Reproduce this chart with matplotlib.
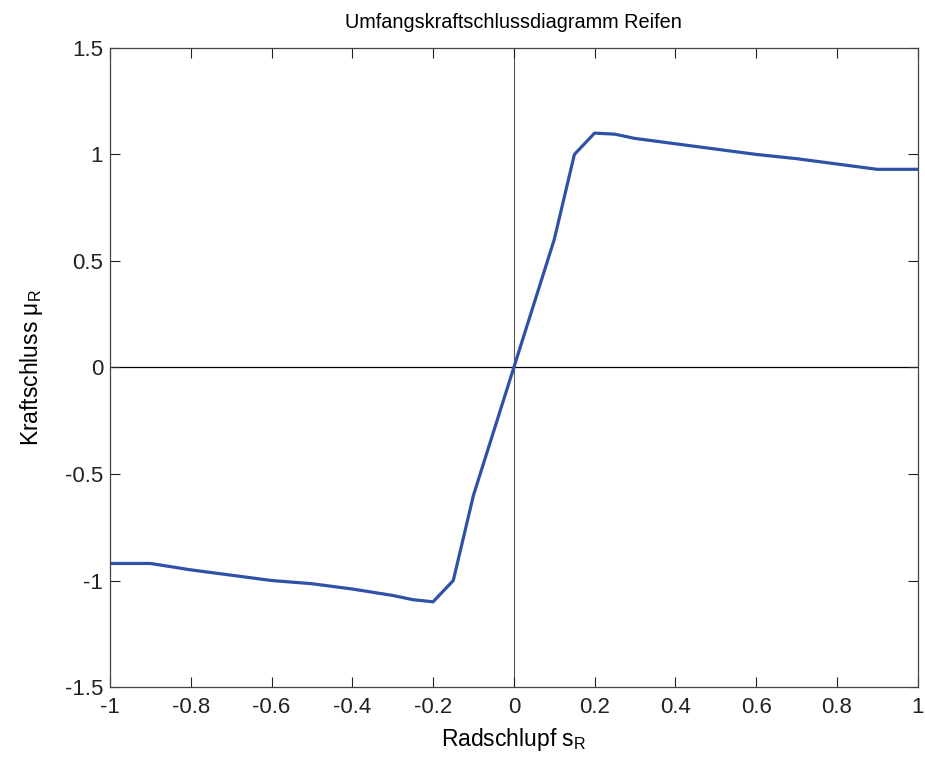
import matplotlib
matplotlib.use("Agg")
import matplotlib.pyplot as plt

# Tyre longitudinal force coefficient vs. wheel slip
slip = [-1.0, -0.9, -0.8, -0.7, -0.6, -0.5, -0.4, -0.3, -0.25, -0.2, -0.15, -0.1,
        0.0, 0.1, 0.15, 0.2, 0.25, 0.3, 0.4, 0.5, 0.6, 0.7, 0.8, 0.9, 1.0]
mu = [-0.92, -0.92, -0.95, -0.975, -1.0, -1.015, -1.04, -1.07, -1.09, -1.10, -1.0, -0.6,
      0.0, 0.6, 1.0, 1.10, 1.095, 1.075, 1.05, 1.025, 1.0, 0.98, 0.955, 0.93, 0.93]

xticks = [-1, -0.8, -0.6, -0.4, -0.2, 0, 0.2, 0.4, 0.6, 0.8, 1]
xticklabels = ["-1", "-0.8", "-0.6", "-0.4", "-0.2", "0", "0.2", "0.4", "0.6", "0.8", "1"]
yticks = [-1.5, -1, -0.5, 0, 0.5, 1, 1.5]
yticklabels = ["-1.5", "-1", "-0.5", "0", "0.5", "1", "1.5"]

plt.rcParams["font.family"] = ["Liberation Sans", "DejaVu Sans"]
plt.rcParams["mathtext.fontset"] = "custom"
plt.rcParams["mathtext.rm"] = "Liberation Sans"
plt.rcParams["mathtext.it"] = "Liberation Sans"

fig = plt.figure(figsize=(9.25, 7.6), dpi=100)
ax = fig.add_axes([0.119, 0.096, 0.873, 0.841])

ax.axhline(0, color="black", linewidth=0.9, zorder=1)
ax.axvline(0, color="#555555", linewidth=0.8, zorder=1)
ax.plot(slip, mu, color="#2E52A6", linewidth=2.3, zorder=2)

ax.set_xlim(-1, 1)
ax.set_ylim(-1.5, 1.5)
ax.set_xticks(xticks)
ax.set_xticklabels(xticklabels)
ax.set_yticks(yticks)
ax.set_yticklabels(yticklabels)
ax.tick_params(direction="in", length=7, width=0.8, colors="#222222",
               labelsize=16, top=True, right=True)
ax.tick_params(axis="y", pad=5)
ax.tick_params(axis="x", pad=7)
for s in ax.spines.values():
    s.set_color("#444444")
    s.set_linewidth(0.9)

ax.set_title("Umfangskraftschlussdiagramm Reifen", fontsize=14.3, pad=14)
ax.set_xlabel(r"Radschlupf s$_\mathregular{R}$", fontsize=16.5, labelpad=6)
ax.set_ylabel(r"Kraftschluss $\mathregular{\mu_R}$", fontsize=16.5, labelpad=14)

fig.savefig("out.png", dpi=100)
